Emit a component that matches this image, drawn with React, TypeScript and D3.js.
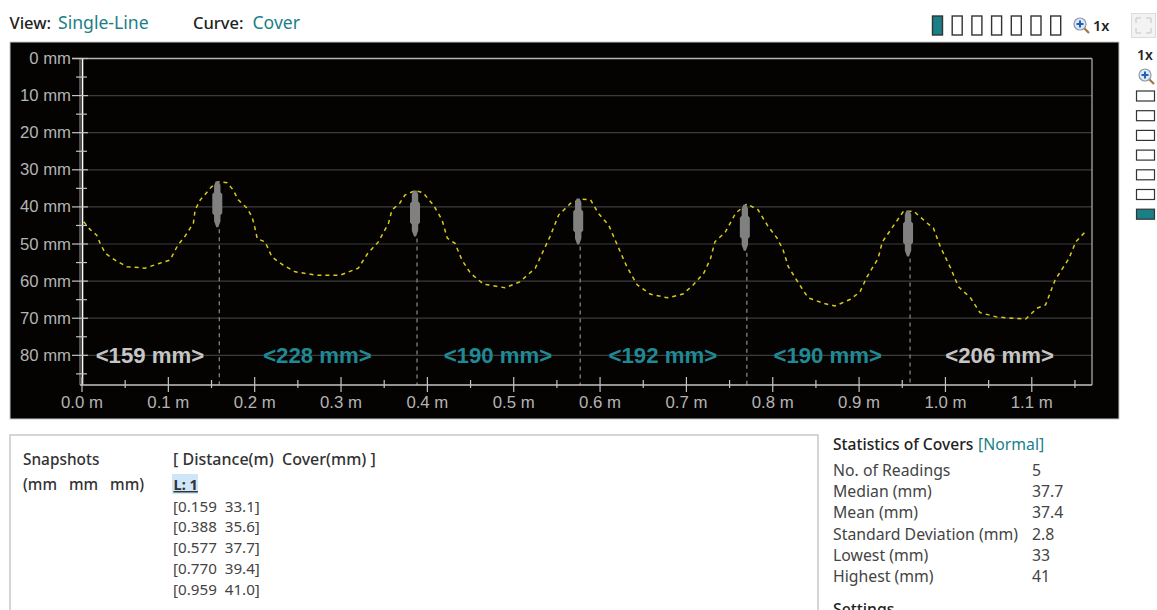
import React from "react";
import * as d3 from "d3";

const curveDistance = [0.002,0.009,0.017,0.021,0.027,0.038,0.052,0.073,0.09,0.102,0.111,0.119,0.129,0.131,0.137,0.15,0.158,0.168,0.175,0.181,0.191,0.197,0.2,0.203,0.212,0.22,0.233,0.247,0.272,0.299,0.32,0.331,0.343,0.355,0.359,0.368,0.374,0.386,0.395,0.407,0.417,0.423,0.432,0.44,0.45,0.465,0.49,0.507,0.525,0.533,0.542,0.552,0.566,0.579,0.589,0.598,0.61,0.62,0.631,0.643,0.658,0.678,0.696,0.708,0.72,0.728,0.733,0.745,0.757,0.77,0.783,0.795,0.805,0.812,0.818,0.83,0.841,0.859,0.872,0.89,0.901,0.909,0.922,0.927,0.938,0.951,0.963,0.979,0.986,0.994,1.006,1.015,1.029,1.04,1.06,1.093,1.106,1.116,1.127,1.143,1.151,1.164];
const curveCover = [44,46,47.6,49.8,52.5,54.3,56.1,56.5,55.2,54.3,50.3,48,44.4,40.8,38.1,34.6,33.2,33.5,35.4,38.1,40.3,42.7,45.4,48.6,49.4,53.5,55.7,57.5,58.4,58.4,56.5,52.5,49.5,44.4,40.8,39,36.8,35.6,36.2,39.5,43.5,48.4,49.8,54.3,57.9,60.8,61.8,60.2,56.5,52.5,48,42.2,39,37.9,38.1,41.7,44.9,50.3,56.1,61,63.5,64.5,63.5,61,57.9,53.9,49.4,46.8,41.7,39.2,40.8,45.4,48.4,51.6,56.1,60.6,64.5,66,66.7,64.9,62.9,58.9,53.9,49.4,45.7,41.3,41.1,44.4,45.7,50.7,56.5,61.5,64.5,68.5,69.7,70.2,67.3,66.4,59.7,53.9,49.4,46.2];

const snapDistance = [0.159, 0.388, 0.577, 0.77, 0.959];
const snapCover = [33.1, 35.6, 37.7, 39.4, 41.0];
const snapLabels = ["[0.159  33.1]", "[0.388  35.6]", "[0.577  37.7]", "[0.770  39.4]", "[0.959  41.0]"];

const spacingLabels = ["<159 mm>", "<228 mm>", "<190 mm>", "<192 mm>", "<190 mm>", "<206 mm>"];
const spacingEdges = [0, 0.159, 0.388, 0.577, 0.77, 0.959, 1.168];
const spacingTeal = [false, true, true, true, true, false];

const yMajor = [0, 10, 20, 30, 40, 50, 60, 70, 80];
const yMinor = [5, 15, 25, 35, 45, 55, 65, 75, 85];
const xMajor = [0, 0.1, 0.2, 0.3, 0.4, 0.5, 0.6, 0.7, 0.8, 0.9, 1.0, 1.1];
const xMinor = [0.05, 0.15, 0.25, 0.35, 0.45, 0.55, 0.65, 0.75, 0.85, 0.95, 1.05, 1.15];

const statNames = ["No. of Readings", "Median (mm)", "Mean (mm)", "Standard Deviation (mm)", "Lowest (mm)", "Highest (mm)"];
const statValues = ["5", "37.7", "37.4", "2.8", "33", "41"];

const TEAL = "#1a7f86";
const UI = "'Noto Sans', 'Open Sans', sans-serif";
const AX = "'Liberation Sans', Arial, sans-serif";

const x = d3.scaleLinear().domain([0, 1.168]).range([82, 1090.5]);
const y = d3.scaleLinear().domain([0, 88]).range([58.5, 385]);

const Loupe = ({ cx, cy }: { cx: number; cy: number }) => (
  <g>
    <line x1={cx + 4} y1={cy + 4} x2={cx + 9} y2={cy + 9} stroke="#a8743a" strokeWidth={2.2} />
    <circle cx={cx} cy={cy} r={6} fill="#dfe8f3" stroke="#8a9bb0" strokeWidth={1.2} />
    <path d={`M${cx - 3.5} ${cy}H${cx + 3.5}M${cx} ${cy - 3.5}V${cy + 3.5}`} stroke="#1f5fb5" strokeWidth={2} />
  </g>
);

export default function App() {
  const line = d3.line<number>().x((d) => x(curveDistance[d])).y((d) => y(curveCover[d]));
  const spindle = (d: number, c: number) => {
    const cx = x(d) - 2;
    const t = y(c);
    return `M${cx - 1.5} ${t}L${cx + 1.5} ${t}L${cx + 3.2} ${t + 4}L${cx + 3.2} ${t + 11}L${cx + 5} ${t + 13}L${cx + 5} ${t + 32}L${cx + 3.2} ${t + 34}L${cx + 3.2} ${t + 40}L${cx + 1} ${t + 46}L${cx - 1} ${t + 46}L${cx - 3.2} ${t + 40}L${cx - 3.2} ${t + 34}L${cx - 5} ${t + 32}L${cx - 5} ${t + 13}L${cx - 3.2} ${t + 11}L${cx - 3.2} ${t + 4}Z`;
  };
  return (
    <svg width={1157} height={610} style={{ position: "absolute", left: 0, top: 0, display: "block", background: "#fff" }}>
      <text x={9.5} y={29} fontFamily={UI} fontSize={16.5} fontWeight={500} fill="#222">View:</text>
      <text x={58} y={29} fontFamily={UI} fontSize={17.6} fill={TEAL}>Single-Line</text>
      <text x={193} y={29} fontFamily={UI} fontSize={16.5} fontWeight={500} fill="#222">Curve:</text>
      <text x={252.5} y={29} fontFamily={UI} fontSize={17.6} fill={TEAL}>Cover</text>

      {d3.range(7).map((i) => (
        <rect key={i} x={932.5 + i * 19.7} y={16} width={10} height={19} fill={i === 0 ? TEAL : "#fff"} stroke="#333" strokeWidth={1.4} />
      ))}
      <Loupe cx={1080} cy={24} />
      <text x={1093} y={31} fontFamily={UI} fontSize={14.5} fontWeight={600} fill="#222">1x</text>

      <rect x={1131.5} y={13.5} width={24} height={24} fill="#f3f3f3" stroke="#dcdcdc" />
      <path d="M1136 18l5 0M1136 18l0 5M1151 18l-5 0M1151 18l0 5M1136 33l5 0M1136 33l0 -5M1151 33l-5 0M1151 33l0 -5" stroke="#d4d4d4" strokeWidth={1.5} fill="none" />
      <text x={1137} y={60} fontFamily={UI} fontSize={14} fontWeight={600} fill="#222">1x</text>
      <Loupe cx={1145} cy={75} />
      {d3.range(7).map((i) => (
        <rect key={i} x={1136.5} y={91 + i * 19.7} width={18} height={10} fill={i === 6 ? TEAL : "#fff"} stroke="#333" strokeWidth={1.2} />
      ))}

      <rect x={10} y={42} width={1109} height={377} fill="#040302" stroke="#c8c8c8" strokeWidth={1} />

      {yMajor.slice(1).map((v) => (
        <line key={v} x1={82} x2={1092} y1={y(v)} y2={y(v)} stroke="#3c3c3c" strokeWidth={1.2} />
      ))}
      <line x1={72} x2={1092} y1={y(0)} y2={y(0)} stroke="#b4b4b4" strokeWidth={1.3} />
      <line x1={1092} x2={1092} y1={y(0)} y2={385} stroke="#a8a8a8" strokeWidth={1.3} />

      {snapDistance.map((d, i) => (
        <line key={d} x1={x(d)} x2={x(d)} y1={y(snapCover[i]) + 48} y2={385} stroke="#8c8c8c" strokeWidth={1.2} strokeDasharray="4 4" />
      ))}

      <path d={line(d3.range(curveDistance.length)) ?? ""} fill="none" stroke="#d8cb1c" strokeWidth={1.5} strokeDasharray="4 4" />

      {snapDistance.map((d, i) => (
        <path key={d} d={spindle(d, snapCover[i])} fill="#808080" />
      ))}

      <line x1={80} x2={80} y1={y(0)} y2={385} stroke="#9a9a9a" strokeWidth={1} />
      <line x1={82.5} x2={82.5} y1={y(0)} y2={385} stroke="#fff" strokeWidth={1.6} />
      <line x1={80} x2={1092} y1={385} y2={385} stroke="#c4c4c4" strokeWidth={1.4} />

      {yMajor.map((v) => (
        <g key={v}>
          <line x1={72} x2={88} y1={y(v)} y2={y(v)} stroke="#c4c4c4" strokeWidth={1.2} />
          <text x={71} y={y(v) + 5.5} textAnchor="end" fontFamily={AX} fontSize={16.7} fill="#b4b4b4">{`${v} mm`}</text>
        </g>
      ))}
      {yMinor.map((v) => (
        <line key={v} x1={76} x2={87} y1={y(v)} y2={y(v)} stroke="#c4c4c4" strokeWidth={1.2} />
      ))}
      {xMajor.map((v) => (
        <g key={v}>
          <line x1={x(v)} x2={x(v)} y1={377} y2={392} stroke="#c4c4c4" strokeWidth={1.2} />
          <text x={x(v)} y={408} textAnchor="middle" fontFamily={AX} fontSize={16.8} fill="#b4b4b4">{`${v.toFixed(1)} m`}</text>
        </g>
      ))}
      {xMinor.map((v) => (
        <line key={v} x1={x(v)} x2={x(v)} y1={380} y2={388} stroke="#c4c4c4" strokeWidth={1.2} />
      ))}

      {spacingLabels.map((l, i) => (
        <text key={i} x={x((spacingEdges[i] + spacingEdges[i + 1]) / 2) - 0.7} y={363} textAnchor="middle" fontFamily={AX} fontSize={22.2} fontWeight={700} fill={spacingTeal[i] ? "#1f8a96" : "#c6c6c6"}>{l}</text>
      ))}

      <path d="M10 610V435H818V610" fill="none" stroke="#c8c8c8" strokeWidth={1.5} />
      <g fontFamily={UI} fontSize={16} fill="#333">
        <text x={23} y={465} fontSize={15.4} fontWeight={500}>Snapshots</text>
        <text x={23} y={490} fontSize={15.4} fontWeight={500} xmlSpace="preserve" wordSpacing={2}>(mm  mm  mm)</text>
        <text x={173} y={465} fontWeight={500} xmlSpace="preserve">[ Distance(m)  Cover(mm) ]</text>
        <rect x={172} y={474} width={26} height={20} fill="#cfe6f7" />
        <text x={173.5} y={490} fontSize={14.6} fontWeight={700} textDecoration="underline">L: 1</text>
        {snapLabels.map((s, i) => (
          <text key={s} x={173} y={511.5 + i * 20.9} fontSize={15.2} xmlSpace="preserve" fill="#444">{s}</text>
        ))}
      </g>
      <g fontFamily={UI} fontSize={15.8} fill="#444">
        <text x={833} y={450} fontSize={15.6} fontWeight={500} fill="#222">Statistics of Covers</text>
        <text x={978} y={450} fill={TEAL}>[Normal]</text>
        {statNames.map((s, i) => (
          <g key={s}>
            <text x={833} y={476 + i * 21.2}>{s}</text>
            <text x={1032} y={476 + i * 21.2}>{statValues[i]}</text>
          </g>
        ))}
        <text x={833} y={615} fontWeight={500} fill="#222">Settings</text>
      </g>
    </svg>
  );
}
